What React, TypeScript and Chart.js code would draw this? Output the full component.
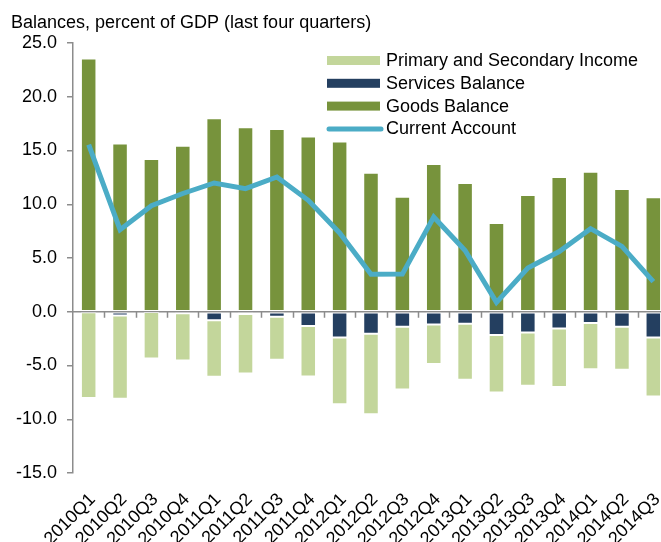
import React, { useEffect, useRef } from "react";
import { Chart, registerables } from "chart.js";

Chart.register(...registerables);

const categories = [
  "2010Q1", "2010Q2", "2010Q3", "2010Q4",
  "2011Q1", "2011Q2", "2011Q3", "2011Q4",
  "2012Q1", "2012Q2", "2012Q3", "2012Q4",
  "2013Q1", "2013Q2", "2013Q3", "2013Q4",
  "2014Q1", "2014Q2", "2014Q3",
];

const goodsBalance = [23.55, 15.64, 14.2, 15.45, 18.0, 17.16, 17.0, 16.3, 15.83, 12.94, 10.7, 13.75, 11.98, 8.26, 10.86, 12.54, 13.03, 11.42, 10.64];
const servicesBalance = [-0.04, -0.34, -0.03, -0.15, -0.8, -0.22, -0.46, -1.33, -2.39, -2.05, -1.4, -1.18, -1.12, -2.17, -1.92, -1.55, -1.05, -1.4, -2.39];
const primarySecondaryIncome = [-7.99, -7.76, -4.32, -4.38, -5.25, -5.52, -4.01, -4.69, -6.21, -7.48, -5.83, -3.69, -5.21, -5.34, -4.97, -5.46, -4.29, -4.0, -5.49];
const currentAccount = [15.55, 7.63, 9.87, 11.0, 11.98, 11.45, 12.54, 10.37, 7.33, 3.48, 3.5, 8.82, 5.7, 0.87, 4.07, 5.6, 7.73, 6.08, 2.8];

const yTicks = [-15, -10, -5, 0, 5, 10, 15, 20, 25];

const FONT = '"Liberation Sans", Arial, sans-serif';
const FS = 18;
const AXIS_GRAY = "#8c8c8c";

const titleText = "Balances, percent of GDP (last four quarters)";

const COLORS = {
  income: "#C3D69B",
  services: "#243F60",
  goods: "#77933C",
  line: "#4BACC6",
};

const legendItems = [
  { label: "Primary and Secondary Income", color: COLORS.income, type: "bar" },
  { label: "Services Balance", color: COLORS.services, type: "bar" },
  { label: "Goods Balance", color: COLORS.goods, type: "bar" },
  { label: "Current Account", color: COLORS.line, type: "line" },
];

const zeroLinePlugin = {
  id: "zeroLine",
  beforeDatasetsDraw(chart: any) {
    const { ctx, chartArea, scales } = chart;
    const x = scales.x;
    const y = scales.y;
    const y0 = y.getPixelForValue(0);
    ctx.save();
    ctx.strokeStyle = AXIS_GRAY;
    ctx.lineWidth = 1.5;
    ctx.beginPath();
    ctx.moveTo(chartArea.left, y0);
    ctx.lineTo(chartArea.right, y0);
    for (let i = 1; i <= categories.length; i++) {
      const px = Math.round(x.getPixelForValue(i - 0.5)) + 0.5;
      ctx.moveTo(px, y0);
      ctx.lineTo(px, y0 + 6);
    }
    ctx.stroke();
    ctx.restore();
  },
};

const titleLegendPlugin = {
  id: "titleLegend",
  afterDraw(chart: any) {
    const { ctx } = chart;
    ctx.save();
    ctx.font = `${FS}px ${FONT}`;
    ctx.fillStyle = "#000";
    ctx.textBaseline = "alphabetic";
    ctx.textAlign = "left";
    ctx.fillText(titleText, 11, 27.5);

    const sx = 327;
    const sw = 53;
    const tx = 386;
    legendItems.forEach((item, i) => {
      const base = 66 + i * 22.8;
      const cy = base - 5.5;
      if (item.type === "bar") {
        ctx.fillStyle = item.color;
        ctx.fillRect(sx, cy - 4.5, sw, 9);
      } else {
        ctx.strokeStyle = item.color;
        ctx.lineWidth = 5;
        ctx.lineCap = "round";
        ctx.beginPath();
        ctx.moveTo(sx + 2, cy);
        ctx.lineTo(sx + sw + 1, cy);
        ctx.stroke();
      }
      ctx.fillStyle = "#000";
      ctx.fillText(item.label, tx, base);
    });
    ctx.restore();
  },
};

export default function App() {
  const canvasRef = useRef<HTMLCanvasElement | null>(null);

  useEffect(() => {
    if (!canvasRef.current) return;
    const barCommon = {
      type: "bar" as const,
      stack: "bars",
      order: 1,
      borderWidth: 1,
      borderColor: "rgba(255,255,255,0.45)",
      borderSkipped: false,
      categoryPercentage: 1,
      barPercentage: 0.495,
    };
    const chart = new Chart(canvasRef.current, {
      type: "bar",
      data: {
        labels: categories,
        datasets: [
          { ...barCommon, label: "Goods Balance", data: goodsBalance, backgroundColor: COLORS.goods },
          { ...barCommon, label: "Services Balance", data: servicesBalance, backgroundColor: COLORS.services },
          { ...barCommon, label: "Primary and Secondary Income", data: primarySecondaryIncome, backgroundColor: COLORS.income },
          {
            type: "line" as const,
            label: "Current Account",
            data: currentAccount,
            stack: "ca",
            order: 0,
            borderColor: COLORS.line,
            backgroundColor: COLORS.line,
            borderWidth: 5,
            pointRadius: 0,
            pointHoverRadius: 0,
            tension: 0,
            fill: false,
            borderJoinStyle: "miter",
          } as any,
        ],
      },
      options: {
        responsive: false,
        animation: false,
        devicePixelRatio: 1,
        layout: { padding: { top: 43, right: 1, left: 0, bottom: 0 } },
        plugins: {
          legend: { display: false },
          title: { display: false },
          tooltip: { enabled: false },
        },
        scales: {
          x: {
            stacked: true,
            offset: true,
            grid: { display: false, drawTicks: false },
            border: { display: false },
            ticks: {
              autoSkip: false,
              maxRotation: 45,
              minRotation: 45,
              color: "#000",
              padding: 16,
              labelOffset: 4,
              font: { family: FONT, size: FS },
            },
            afterFit(scale: any) {
              scale.height = 69;
              scale.paddingLeft = 0;
              scale.paddingRight = 0;
            },
          },
          y: {
            stacked: true,
            min: -15,
            max: 25,
            afterBuildTicks(scale: any) {
              scale.ticks = yTicks.map((v) => ({ value: v }));
            },
            grid: {
              display: true,
              drawOnChartArea: false,
              drawTicks: true,
              tickLength: 6,
              color: AXIS_GRAY,
              lineWidth: 1.5,
            },
            border: { display: true, color: AXIS_GRAY, width: 1.5 },
            ticks: {
              color: "#000",
              padding: 10,
              font: { family: FONT, size: FS },
              callback: (v: any) => Number(v).toFixed(1),
            },
            afterFit(scale: any) {
              scale.width = 73;
            },
          },
        },
      },
      plugins: [zeroLinePlugin, titleLegendPlugin],
    });
    return () => chart.destroy();
  }, []);

  return (
    <div
      style={{
        position: "fixed",
        left: 0,
        top: 0,
        width: 661,
        height: 542,
        overflow: "hidden",
        background: "#fff",
      }}
    >
      <canvas ref={canvasRef} width={670} height={542} style={{ display: "block" }} />
    </div>
  );
}
